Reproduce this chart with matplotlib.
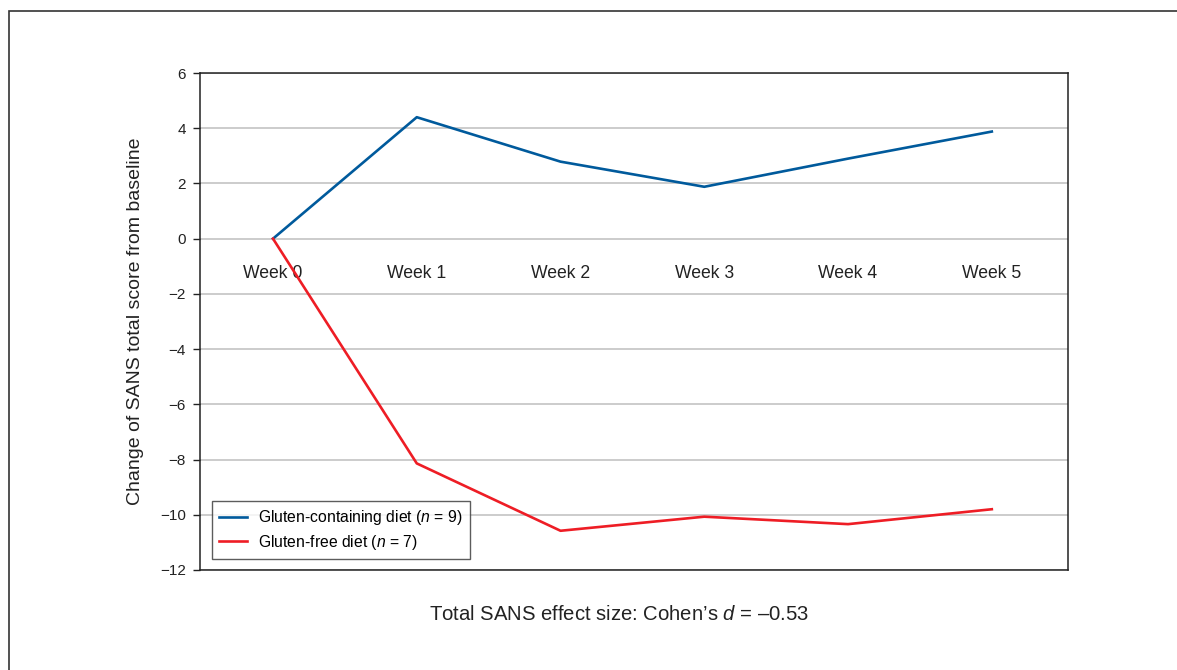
#!/usr/bin/env python3
# -*- coding: utf-8 -*-
"""
SANS total score change by week, gluten-containing vs gluten-free diet
"""
import matplotlib
matplotlib.use('Agg')
import matplotlib.pyplot as plt
from matplotlib.patches import Rectangle

weeks = ['Week 0', 'Week 1', 'Week 2', 'Week 3', 'Week 4', 'Week 5']
gluten = [0, 4.4, 2.79, 1.88, 2.9, 3.88]
gluten_free = [0, -8.14, -10.58, -10.07, -10.34, -9.8]
yticks = [6, 4, 2, 0, -2, -4, -6, -8, -10, -12]

plt.rcParams['font.family'] = ['Liberation Sans', 'DejaVu Sans']
plt.rcParams['mathtext.fontset'] = 'custom'
plt.rcParams['mathtext.rm'] = 'Liberation Sans'
plt.rcParams['mathtext.it'] = 'Liberation Sans:italic'


def main():
    fig = plt.figure(figsize=(11.77, 6.70), dpi=100)
    ax = fig.add_axes([0.1699, 0.1493, 0.7375, 0.7417])

    x = range(len(weeks))
    ax.plot(x, gluten, color='#005a9c', lw=1.9,
            label='Gluten-containing diet ($\\it{n}$ = 9)', zorder=3)
    ax.plot(x, gluten_free, color='#ee1d25', lw=1.9,
            label='Gluten-free diet ($\\it{n}$ = 7)', zorder=3)

    ax.set_ylim(-12, 6)
    ax.set_xlim(-0.508, 5.53)
    ax.set_yticks(yticks)
    ax.yaxis.grid(True, color='#c8c8c8', lw=1.3)
    ax.set_axisbelow(True)
    ax.tick_params(axis='y', labelsize=11, length=5, width=1, pad=5,
                   color='#222222', labelcolor='#222222')
    ax.set_xticks([])
    for s in ax.spines.values():
        s.set_color('#222222')
        s.set_linewidth(1.1)

    # category labels sit just under the zero line
    ymin, ymax = ax.get_ylim()
    sec = ax.secondary_xaxis((0 - ymin) / (ymax - ymin))
    sec.set_xticks(list(x))
    sec.set_xticklabels(weeks)
    sec.xaxis.set_ticks_position('bottom')
    sec.tick_params(length=0, pad=19, labelsize=12.7, labelcolor='#222222')
    sec.spines['bottom'].set_visible(False)
    sec.spines['top'].set_visible(False)

    ax.set_ylabel('Change of SANS total score from baseline', fontsize=14,
                  color='#222222', labelpad=12)

    leg = ax.legend(loc='lower left', bbox_to_anchor=(0.0138, 0.022),
                    borderaxespad=0, fontsize=11.3, frameon=True,
                    fancybox=False, handlelength=1.8, borderpad=0.45,
                    labelspacing=0.35, handletextpad=0.7)
    leg.get_frame().set_edgecolor('#333333')
    leg.get_frame().set_linewidth(1.0)

    fig.text(0.526, 0.083, 'Total SANS effect size: Cohen\u2019s $\\it{d}$ = \u20130.53',
             ha='center', va='center', fontsize=14.6, color='#222222')

    # outer frame of the figure panel
    fig.patches.append(Rectangle((9 / 1177, -0.1), 1.2, 1.1 - 11 / 670,
                                 transform=fig.transFigure, fill=False,
                                 edgecolor='#333333', lw=1.2))

    fig.savefig('out.png', dpi=100)


if __name__ == '__main__':
    main()
